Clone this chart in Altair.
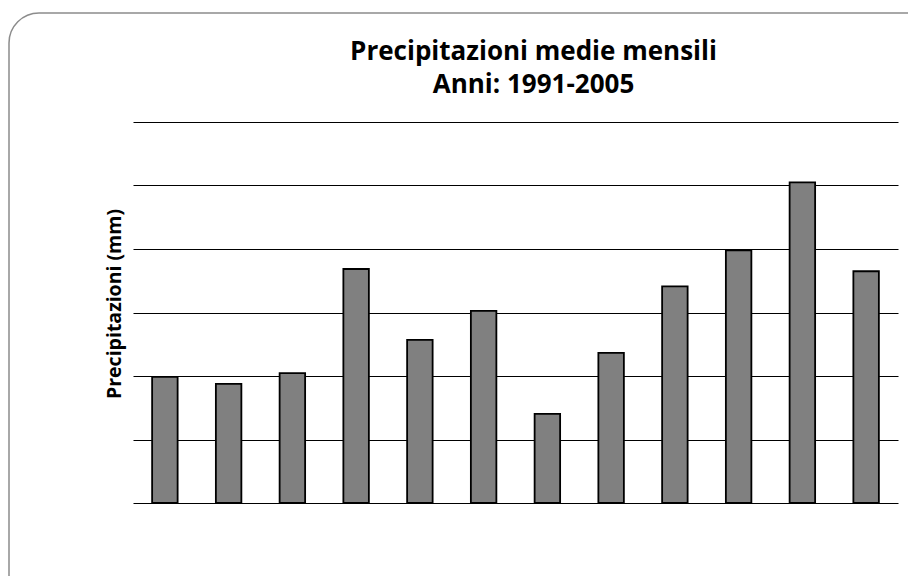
import altair as alt
import pandas as pd

months = ["Gen", "Feb", "Mar", "Apr", "Mag", "Giu", "Lug", "Ago", "Set", "Ott", "Nov", "Dic"]
precip = [39.7, 37.5, 40.9, 73.7, 51.4, 60.5, 28.1, 47.3, 68.2, 79.6, 101.0, 73.0]
y_ticks = [0, 20, 40, 60, 80, 100, 120]

df = pd.DataFrame({"mese": months, "mm": precip})
FONT = "Open Sans"

bars = alt.Chart(df).mark_bar(
    color="#808080", stroke="#000000", strokeWidth=1.8
).encode(
    x=alt.X("mese:N", sort=months, axis=None,
            scale=alt.Scale(paddingInner=0.6, paddingOuter=0.3)),
    y=alt.Y("mm:Q", title="Precipitazioni (mm)",
            scale=alt.Scale(domain=[0, 120], nice=False),
            axis=alt.Axis(values=y_ticks, labels=False, ticks=False, domain=False,
                          grid=True, gridColor="#000000", gridWidth=1.2, gridOpacity=1,
                          titleFont=FONT, titleFontSize=19.5, titleFontWeight="bold",
                          titleColor="#000000", titlePadding=9, titleY=181.5)),
)

border = alt.Chart(pd.DataFrame({"a": [0]})).mark_rect(
    fill=None, stroke="#8c8c8c", strokeWidth=1.5, cornerRadius=30
).encode(
    x=alt.value(-124), x2=alt.value(900), y=alt.value(-109), y2=alt.value(600)
)

chart = alt.layer(border, bars).properties(
    width=765, height=381,
    autosize=alt.AutoSizeParams(type="none"),
    padding={"left": 125, "top": 114, "right": 10, "bottom": 73},
    title=alt.TitleParams(
        text=["Precipitazioni medie mensili", "Anni: 1991-2005"],
        font=FONT, fontSize=26, fontWeight="bold", color="#000000",
        anchor="middle", dx=18, lineHeight=33, offset=-86, frame="group",
    ),
).configure_view(stroke=None)

chart.save("out.html", embed_options={"renderer": "svg", "actions": False})
